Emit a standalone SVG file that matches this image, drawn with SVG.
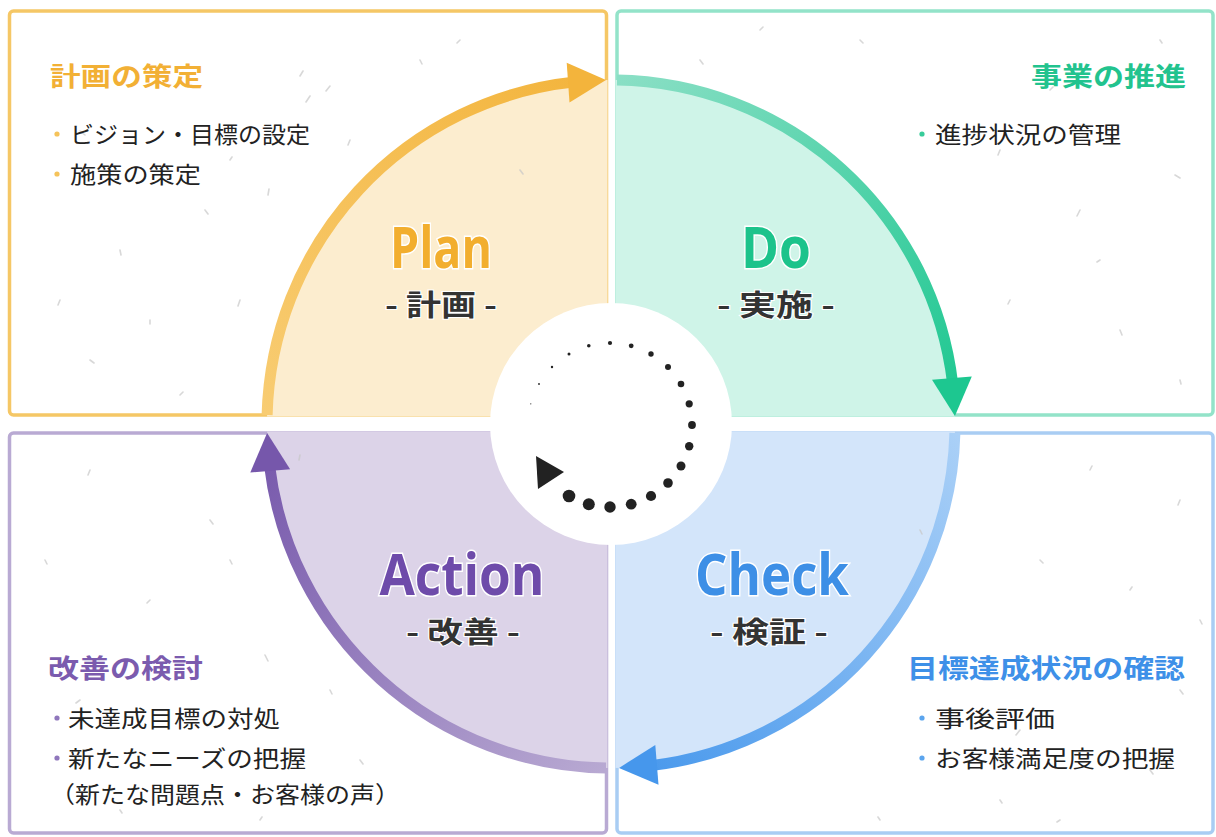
<svg xmlns="http://www.w3.org/2000/svg" width="1216" height="837" viewBox="0 0 1216 837">
<defs>
<style>
.box{fill:#fff;stroke-width:3.5}
.arc{fill:none;stroke-width:11}
.jp{font-family:"Noto Sans CJK JP","Noto Sans",sans-serif}
.hd{font-weight:700;font-size:26px}
.it{font-size:23px;fill:#222}
.big{font-family:"Open Sans","Noto Sans",sans-serif;font-weight:700;font-size:57px;text-anchor:middle;stroke:#fff;stroke-width:3;paint-order:stroke}
.sub{font-family:"Noto Sans CJK JP","Noto Sans",sans-serif;font-weight:700;font-size:29px;fill:#333;text-anchor:middle;stroke:#fff;stroke-width:2;paint-order:stroke}
.sp{stroke:#c8c8c8;stroke-width:1.6;stroke-linecap:round;opacity:.7}
.dot{fill:#222}
</style>
<clipPath id="cP"><rect x="0" y="0" width="607.5" height="416.5"/></clipPath>
<clipPath id="cD"><rect x="615.5" y="0" width="600.5" height="416.5"/></clipPath>
<clipPath id="cA"><rect x="0" y="431.5" width="607.5" height="405.5"/></clipPath>
<clipPath id="cC"><rect x="615.5" y="431.5" width="600.5" height="405.5"/></clipPath>
<linearGradient id="gP" gradientUnits="userSpaceOnUse" x1="267" y1="415" x2="606" y2="80"><stop offset="0" stop-color="#F8CC72"/><stop offset="1" stop-color="#F3B43C"/></linearGradient>
<linearGradient id="gD" gradientUnits="userSpaceOnUse" x1="617" y1="80" x2="955" y2="416"><stop offset="0" stop-color="#8ADFC5"/><stop offset="1" stop-color="#1DC790"/></linearGradient>
<linearGradient id="gC" gradientUnits="userSpaceOnUse" x1="955" y1="433" x2="619" y2="768"><stop offset="0" stop-color="#AAD0F7"/><stop offset="1" stop-color="#4697EC"/></linearGradient>
<linearGradient id="gA" gradientUnits="userSpaceOnUse" x1="606" y1="768" x2="267" y2="433"><stop offset="0" stop-color="#B8A9D2"/><stop offset="1" stop-color="#7657AB"/></linearGradient>
</defs>
<rect width="1216" height="837" fill="#fff"/>

<g id="plan">
<rect class="box" x="9.5" y="11" width="597" height="404" rx="4" stroke="#F5C766"/>
<circle cx="611" cy="424" r="344" fill="#FCEDCF" clip-path="url(#cP)"/>
</g>
<g id="do">
<rect class="box" x="617" y="11" width="596" height="404" rx="4" stroke="#93E3C9"/>
<circle cx="611" cy="424" r="344" fill="#CFF4E8" clip-path="url(#cD)"/>
</g>
<g id="action">
<rect class="box" x="9.5" y="433" width="597" height="400" rx="4" stroke="#B9AAD3"/>
<circle cx="611" cy="424" r="344" fill="#DCD3E8" clip-path="url(#cA)"/>
</g>
<g id="check">
<rect class="box" x="617" y="433" width="596" height="400" rx="4" stroke="#A9CDF3"/>
<circle cx="611" cy="424" r="344" fill="#D3E5FA" clip-path="url(#cC)"/>
</g>

<g id="speckles">
<path class="sp" d="M80 131l5 4M300 76l3-5M310 96l-4 6M269 189l-1 6M330 86l-4 5M205 210l3 4M120 250l1 5M240 300l-2 6M90 360l4 3M180 395l3-3M420 60l2 4M460 40l-3 3M350 140l-2 5M150 320l0 4M230 160l2-3M520 170l3 4M60 300l-2 5"/>
<path class="sp" d="M700 60l3 4M760 30l3-3M1080 210l-3 6M1175 175l5 3M1010 300l-2 4M1120 330l2 5M1180 380l1 4M1050 90l3-3M860 40l3 3M1000 150l-2 5M1100 260l-3 2M1160 40l2 3"/>
<path class="sp" d="M90 470l-2 5M210 520l3 4M300 455l-1 5M230 560l2 4M150 600l-3 3M265 655l3 6M330 690l2 4M80 700l-4 3M360 760l3 4M260 820l2-3M120 810l2 3M45 560l2 4"/>
<path class="sp" d="M1090 470l2-4M1180 500l-2 5M1040 560l3 3M1130 590l2-3M1180 690l3 4M1000 800l2 3M1060 820l-3 2M920 530l2 4M1020 730l-4 5M1150 770l3 4M880 820l-2-3M1200 620l2 4"/>
</g>

<g id="connectors">
<path class="arc" stroke="url(#gP)" d="M267.1 415 A344 344 0 0 1 575.0 81.9"/>
<polygon fill="#F3B43C" points="606,80 569.5,102.6 566.7,62.8"/>
<path class="arc" stroke="url(#gD)" d="M617 80.05 A344 344 0 0 1 952.7 383.9"/>
<polygon fill="#1DC790" points="954.9,416 932,379.7 971.8,376.5"/>
<path class="arc" stroke="url(#gC)" d="M954.9 433 A344 344 0 0 1 651.1 765.6"/>
<polygon fill="#4697EC" points="619,767.9 655.3,745 658.5,784.8"/>
<path class="arc" stroke="url(#gA)" d="M606 768 A344 344 0 0 1 269.4 464.7"/>
<polygon fill="#7657AB" points="267.1,433 290.1,469.3 250.3,472.5"/>
</g>

<g id="center">
<circle cx="611" cy="424" r="121" fill="#fff"/>
<circle class="dot" cx="530.8" cy="403.8" r="0.6"/>
<circle class="dot" cx="539" cy="384" r="0.9"/>
<circle class="dot" cx="552" cy="367" r="1.2"/>
<circle class="dot" cx="569" cy="354" r="1.5"/>
<circle class="dot" cx="588.8" cy="345.8" r="1.8"/>
<circle class="dot" cx="610" cy="343" r="2.1"/>
<circle class="dot" cx="631.2" cy="345.8" r="2.4"/>
<circle class="dot" cx="651" cy="354" r="2.7"/>
<circle class="dot" cx="668" cy="367" r="3"/>
<circle class="dot" cx="681" cy="384" r="3.3"/>
<circle class="dot" cx="689.2" cy="403.8" r="3.6"/>
<circle class="dot" cx="692" cy="425" r="3.9"/>
<circle class="dot" cx="689.2" cy="446.2" r="4.2"/>
<circle class="dot" cx="681" cy="466" r="4.5"/>
<circle class="dot" cx="668" cy="483" r="4.8"/>
<circle class="dot" cx="651" cy="496" r="5.1"/>
<circle class="dot" cx="631.2" cy="504.2" r="5.4"/>
<circle class="dot" cx="610" cy="507" r="5.7"/>
<circle class="dot" cx="588.8" cy="504.2" r="6"/>
<circle class="dot" cx="569" cy="496" r="6.3"/>
<polygon class="dot" points="536,456 564,472 538,489"/>
</g>

<g id="plan-text">
<text class="big" x="441" y="268" fill="#F2AE2E" textLength="102" lengthAdjust="spacingAndGlyphs">Plan</text>
<text class="sub" x="441" y="316" textLength="112" lengthAdjust="spacingAndGlyphs">- 計画 -</text>
<text class="jp hd" x="50" y="86" fill="#F2B035" textLength="153" lengthAdjust="spacingAndGlyphs">計画の策定</text>
<circle cx="57" cy="134" r="2.6" fill="#F5C35A"/>
<text class="jp it" x="70" y="143" textLength="240" lengthAdjust="spacingAndGlyphs">ビジョン・目標の設定</text>
<circle cx="57" cy="174" r="2.6" fill="#F5C35A"/>
<text class="jp it" x="70" y="183" textLength="131" lengthAdjust="spacingAndGlyphs">施策の策定</text>
</g>

<g id="do-text">
<text class="big" x="776" y="268" fill="#1CC38B" textLength="70" lengthAdjust="spacingAndGlyphs">Do</text>
<text class="sub" x="776" y="316" textLength="118" lengthAdjust="spacingAndGlyphs">- 実施 -</text>
<text class="jp hd" x="1186" y="86" fill="#22C38E" text-anchor="end" textLength="155" lengthAdjust="spacingAndGlyphs">事業の推進</text>
<circle cx="922" cy="134" r="2.6" fill="#38CC9A"/>
<text class="jp it" x="935" y="143" textLength="186" lengthAdjust="spacingAndGlyphs">進捗状況の管理</text>
</g>

<g id="action-text">
<text class="big" x="462" y="595" fill="#6E4BAA" textLength="165" lengthAdjust="spacingAndGlyphs">Action</text>
<text class="sub" x="463" y="643" textLength="114" lengthAdjust="spacingAndGlyphs">- 改善 -</text>
<text class="jp hd" x="48" y="678" fill="#7B5BAE" textLength="155" lengthAdjust="spacingAndGlyphs">改善の検討</text>
<circle cx="57" cy="718" r="2.6" fill="#8F77BC"/>
<text class="jp it" x="68" y="727" textLength="212" lengthAdjust="spacingAndGlyphs">未達成目標の対処</text>
<circle cx="57" cy="758" r="2.6" fill="#8F77BC"/>
<text class="jp it" x="68" y="767" textLength="238" lengthAdjust="spacingAndGlyphs">新たなニーズの把握</text>
<text class="jp it" x="50" y="803" textLength="350" lengthAdjust="spacingAndGlyphs">（新たな問題点・お客様の声）</text>
</g>

<g id="check-text">
<text class="big" x="772" y="595" fill="#3D8FE6" textLength="154" lengthAdjust="spacingAndGlyphs">Check</text>
<text class="sub" x="769" y="643" textLength="118" lengthAdjust="spacingAndGlyphs">- 検証 -</text>
<text class="jp hd" x="1185" y="678" fill="#3E90E8" text-anchor="end" textLength="278" lengthAdjust="spacingAndGlyphs">目標達成状況の確認</text>
<circle cx="922" cy="718" r="2.6" fill="#5BA5EE"/>
<text class="jp it" x="935" y="727" textLength="120" lengthAdjust="spacingAndGlyphs">事後評価</text>
<circle cx="922" cy="758" r="2.6" fill="#5BA5EE"/>
<text class="jp it" x="935" y="767" textLength="240" lengthAdjust="spacingAndGlyphs">お客様満足度の把握</text>
</g>
</svg>
